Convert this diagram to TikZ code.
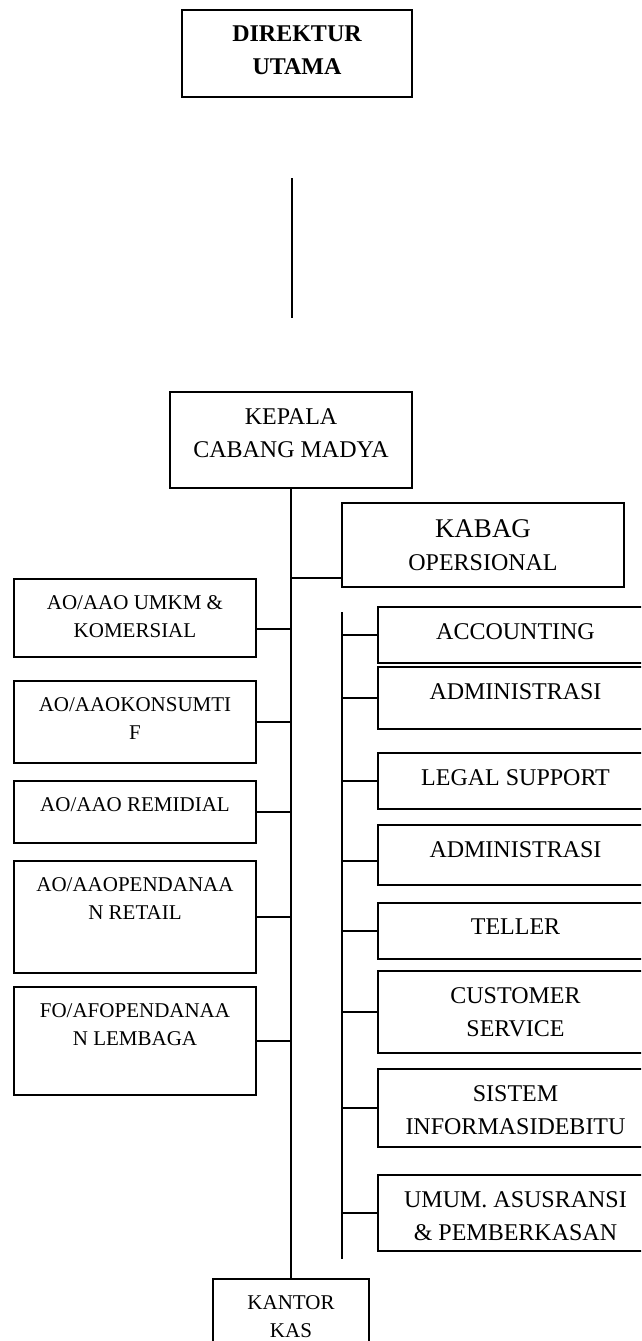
\documentclass[tikz,border=0pt]{standalone}
\usepackage{fontspec}
\setmainfont{Liberation Serif}
\usetikzlibrary{positioning}

\begin{document}
\begin{tikzpicture}[
  x=1pt, y=-1pt,
  node distance=18pt,
  box/.style={draw, line width=1.5pt, fill=white, inner sep=0pt, outer sep=0pt, anchor=north},
  lbox/.style={box, minimum width=242pt},
  rbox/.style={box, minimum width=275pt},
  txt/.style={anchor=north, align=center, inner sep=0pt, yshift=-16pt, font=\fontsize{24}{33}\selectfont},
  stxt/.style={txt, font=\fontsize{21}{28}\selectfont},
  link/.style={draw, line width=1.5pt},
  ]
\useasboundingbox (0,0) rectangle (641,1341);
\clip (0,0) rectangle (641,1341);

\node[box, minimum width=230pt, minimum height=87pt,
      label={[txt, font=\bfseries\fontsize{24}{33}\selectfont]north:DIREKTUR\\UTAMA}] (dir) at (297,10) {};
\coordinate (dtop) at (292,178);
\coordinate (dbot) at (292,318);

\node[box, minimum width=242pt, minimum height=96pt,
      label={[txt]north:KEPALA\\CABANG MADYA}] (kcm) at (291,392) {};
\node[box, minimum width=282pt, minimum height=84pt,
      label={[txt]north:{\fontsize{27}{33}\selectfont KABAG}\\OPERSIONAL}] (kabag) at (483,503) {};
\node[box, minimum width=156pt, minimum height=85pt,
      label={[stxt]north:KANTOR\\KAS}] (kas) at (291,1279) {};

\node[lbox, minimum height=78pt, label={[stxt]north:AO/AAO UMKM \&\\KOMERSIAL}] (umkm) at (135,579) {};
\node[lbox, minimum height=82pt, below=24pt of umkm, label={[stxt]north:AO/AAOKONSUMTI\\F}] (kons) {};
\node[lbox, minimum height=62pt, below=18pt of kons, label={[stxt]north:AO/AAO REMIDIAL}] (remi) {};
\node[lbox, minimum height=112pt, below=18pt of remi, label={[stxt]north:AO/AAOPENDANAA\\N RETAIL}] (ret) {};
\node[lbox, minimum height=108pt, below=14pt of ret, label={[stxt]north:FO/AFOPENDANAA\\N LEMBAGA}] (lem) {};

\node[rbox, minimum height=56pt, label={[txt]north:ACCOUNTING}] (acc) at (515.5,607) {};
\node[rbox, minimum height=62pt, below=4pt of acc, label={[txt]north:ADMINISTRASI}] (adm1) {};
\node[rbox, minimum height=56pt, below=24pt of adm1, label={[txt]north:LEGAL SUPPORT}] (legal) {};
\node[rbox, minimum height=60pt, below=16pt of legal, label={[txt]north:ADMINISTRASI}] (adm2) {};
\node[rbox, minimum height=56pt, below=18pt of adm2, label={[txt]north:TELLER}] (tel) {};
\node[rbox, minimum height=82pt, below=12pt of tel, label={[txt]north:CUSTOMER\\SERVICE}] (cs) {};
\node[rbox, minimum height=78pt, below=16pt of cs, label={[txt]north:SISTEM\\INFORMASIDEBITU}] (sid) {};
\node[rbox, minimum height=76pt, below=28pt of sid, label={[txt]north:UMUM. ASUSRANSI\\\& PEMBERKASAN}] (umum) {};
\coordinate (rtop) at (342,612);
\coordinate (rbot) at (342,1259);

\draw[link] (dtop) -- (dbot);
\draw[link] (kcm.south) -- (kas.north);
\draw[link] ([yshift=-33pt]kabag.west) -- ([yshift=-33pt]kabag.west -| kcm.south);
\draw[link] ([yshift=-11pt]umkm.east) -- ([yshift=-11pt]umkm.east -| kcm.south);
\draw[link] (kons.east) -- (kons.east -| kcm.south);
\draw[link] (remi.east) -- (remi.east -| kcm.south);
\draw[link] (ret.east) -- (ret.east -| kcm.south);
\draw[link] (lem.east) -- (lem.east -| kcm.south);

\draw[link] (rtop) -- (rbot);
\draw[link] (acc.west) -- (acc.west -| rtop);
\draw[link] (adm1.west) -- (adm1.west -| rtop);
\draw[link] (legal.west) -- (legal.west -| rtop);
\draw[link] ([yshift=-6pt]adm2.west) -- ([yshift=-6pt]adm2.west -| rtop);
\draw[link] (tel.west) -- (tel.west -| rtop);
\draw[link] (cs.west) -- (cs.west -| rtop);
\draw[link] (sid.west) -- (sid.west -| rtop);
\draw[link] (umum.west) -- (umum.west -| rtop);
\end{tikzpicture}
\end{document}
